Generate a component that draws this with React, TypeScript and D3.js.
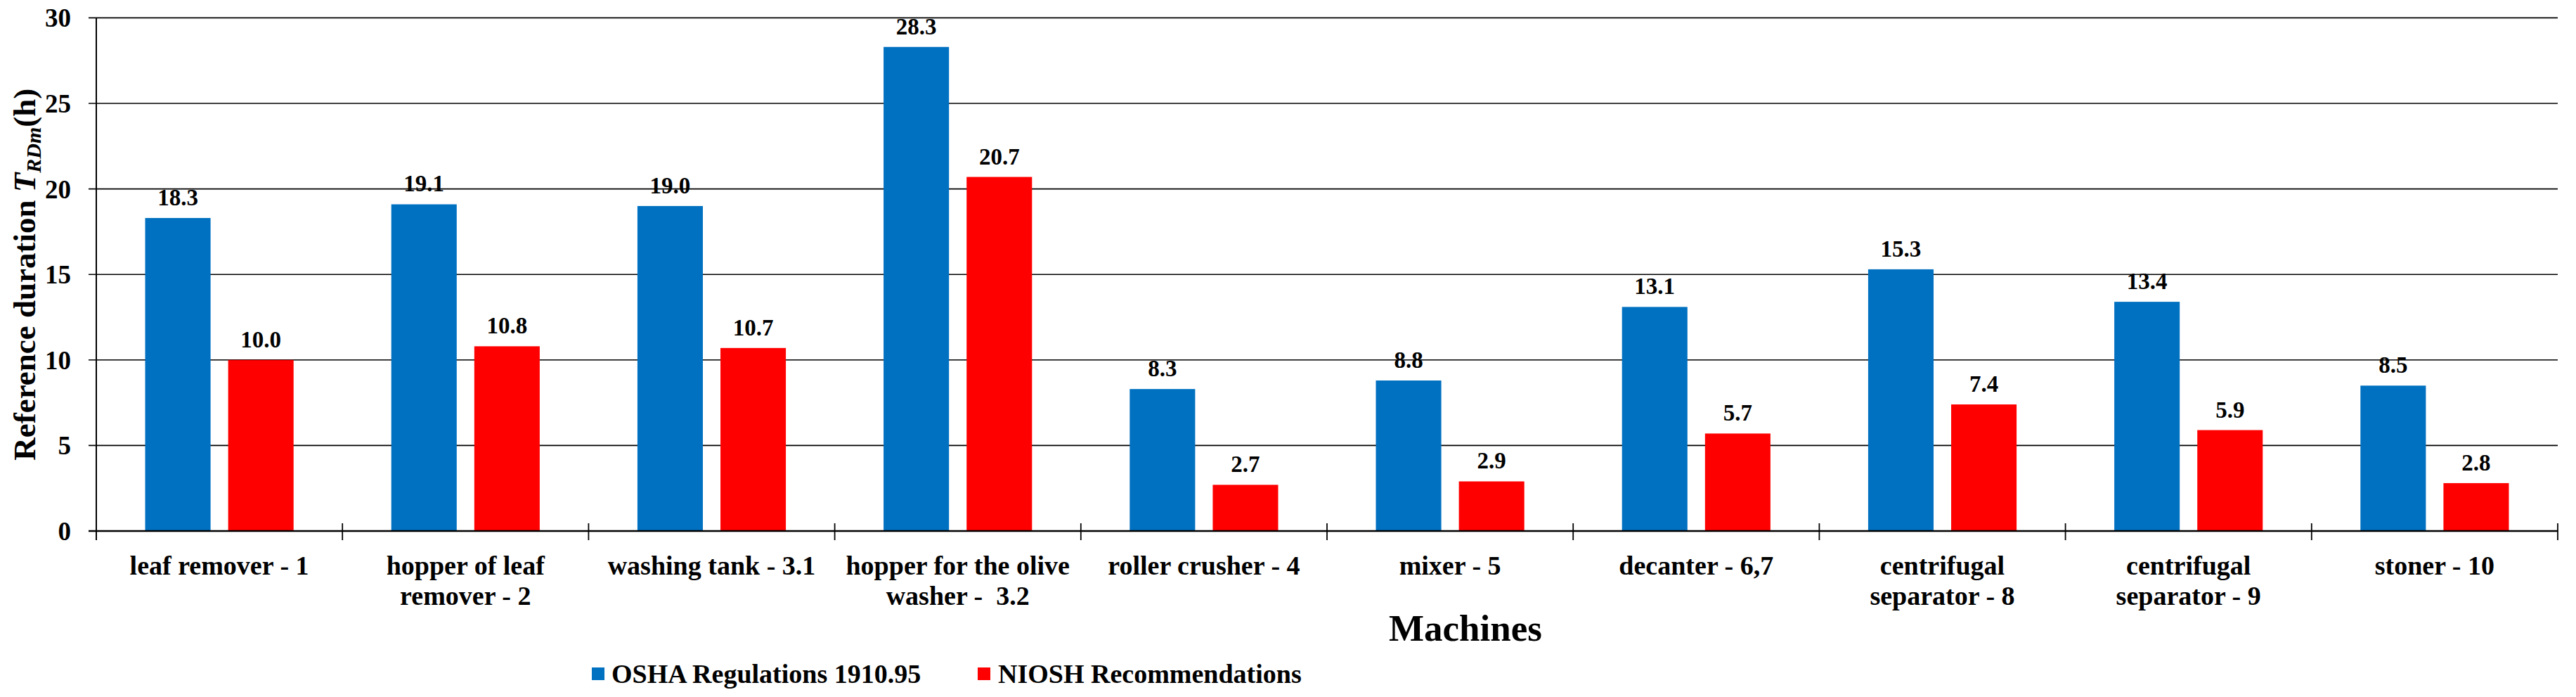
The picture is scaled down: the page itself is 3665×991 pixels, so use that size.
import React from "react";
import * as d3 from "d3";

const categories: string[][] = [
  ["leaf remover - 1"],
  ["hopper of leaf", "remover - 2"],
  ["washing tank - 3.1"],
  ["hopper for the olive", "washer -  3.2"],
  ["roller crusher - 4"],
  ["mixer - 5"],
  ["decanter - 6,7"],
  ["centrifugal", "separator - 8"],
  ["centrifugal", "separator - 9"],
  ["stoner - 10"],
];
const seriesNames = ["OSHA Regulations 1910.95", "NIOSH Recommendations"];
const osha = [18.3, 19.1, 19.0, 28.3, 8.3, 8.8, 13.1, 15.3, 13.4, 8.5];
const niosh = [10.0, 10.8, 10.7, 20.7, 2.7, 2.9, 5.7, 7.4, 5.9, 2.8];
const yTicks = [0, 5, 10, 15, 20, 25, 30];
const colors = ["#0070C0", "#FF0000"];

const W = 3665;
const H = 991;
const FONT = "'Liberation Serif', 'Times New Roman', serif";

export default function App() {
  const left = 137;
  const right = 3639;
  const top = 25.4;
  const bottom = 755;
  const idx = categories.map((_, i) => i);
  const x = d3.scaleBand<number>().domain(idx).range([left, right]).padding(0);
  const bw = x.bandwidth();
  const outer = bw * 0.1985;
  const inner = d3
    .scaleBand<number>()
    .domain([0, 1])
    .range([outer, bw - outer])
    .paddingInner(0.212)
    .paddingOuter(0);
  const y = d3.scaleLinear().domain([0, 30]).range([bottom, top]);
  const series = [osha, niosh];

  return (
    <svg
      width={W}
      height={H}
      style={{ position: "absolute", left: 0, top: 0, background: "#fff" }}
      fontFamily={FONT}
    >
      <rect x={0} y={0} width={W} height={H} fill="#fff" />
      {/* gridlines */}
      {yTicks.map((t) => (
        <g key={t}>
          {t !== 0 && (
            <line x1={126} x2={right} y1={y(t)} y2={y(t)} stroke="#000" strokeWidth={1.6} />
          )}
          <text
            x={101}
            y={y(t)}
            dy="0.35em"
            textAnchor="end"
            fontSize={37}
            fontWeight="bold"
          >
            {t}
          </text>
        </g>
      ))}
      {/* bars */}
      {series.map((vals, s) =>
        vals.map((v, i) => {
          const bx = (x(i) as number) + (inner(s) as number);
          return (
            <g key={`${s}-${i}`}>
              <rect
                x={bx}
                y={y(v)}
                width={inner.bandwidth()}
                height={bottom - y(v)}
                fill={colors[s]}
              />
              <text
                x={bx + inner.bandwidth() / 2}
                y={y(v) - 18}
                textAnchor="middle"
                fontSize={33}
                fontWeight="bold"
              >
                {v.toFixed(1)}
              </text>
            </g>
          );
        })
      )}
      {/* axes */}
      <line x1={126} x2={right} y1={bottom} y2={bottom} stroke="#000" strokeWidth={2.6} />
      <line x1={left} x2={left} y1={top} y2={768} stroke="#000" strokeWidth={2} />
      {idx.concat([categories.length]).map((i) => {
        const xx = i < categories.length ? (x(i) as number) : right;
        return <line key={i} x1={xx} x2={xx} y1={744} y2={768} stroke="#000" strokeWidth={1.8} />;
      })}
      {/* category labels */}
      {categories.map((lines, i) => (
        <text
          key={i}
          x={(x(i) as number) + bw / 2}
          y={817}
          textAnchor="middle"
          fontSize={38}
          fontWeight="bold"
          style={{ whiteSpace: "pre" }}
        >
          {lines.map((l, j) => (
            <tspan key={j} x={(x(i) as number) + bw / 2} dy={j === 0 ? 0 : 43}>
              {l}
            </tspan>
          ))}
        </text>
      ))}
      {/* axis titles */}
      <text x={2085} y={911} textAnchor="middle" fontSize={53} fontWeight="bold">
        Machines
      </text>
      <text
        transform={`translate(50, ${(top + bottom) / 2}) rotate(-90)`}
        textAnchor="middle"
        fontSize={45}
        fontWeight="bold"
      >
        Reference duration{" "}
        <tspan fontStyle="italic">T</tspan>
        <tspan fontStyle="italic" fontSize={30} dy={8}>
          RDm
        </tspan>
        <tspan dy={-8}>(h)</tspan>
      </text>
      {/* legend */}
      <rect x={842} y={949} width={18} height={18} fill={colors[0]} />
      <text x={870} y={971} fontSize={38} fontWeight="bold">
        {seriesNames[0]}
      </text>
      <rect x={1391} y={949} width={18} height={18} fill={colors[1]} />
      <text x={1420} y={971} fontSize={38} fontWeight="bold">
        {seriesNames[1]}
      </text>
    </svg>
  );
}
